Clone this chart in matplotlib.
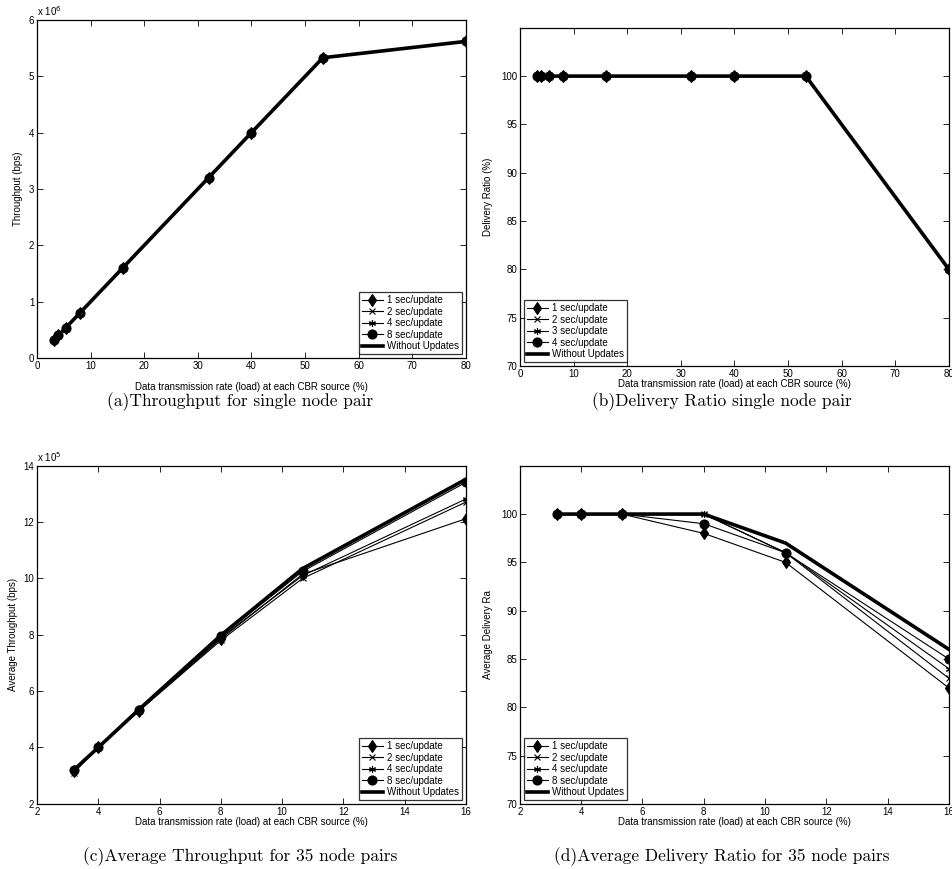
import matplotlib
matplotlib.use("Agg")
import matplotlib.pyplot as plt
from matplotlib.ticker import FuncFormatter

plt.rcParams['font.family'] = ['Liberation Sans', 'DejaVu Sans']
plt.rcParams['font.size'] = 7

# (a) / (b) single node pair
load_single = [3.2, 4, 5.33, 8, 16, 32, 40, 53.33, 80]
thr_single = [0.32e6, 0.40e6, 0.533e6, 0.80e6, 1.60e6, 3.20e6, 4.00e6, 5.33e6, 5.62e6]
dr_single = [100, 100, 100, 100, 100, 100, 100, 100, 80]

# (c) / (d) 35 node pairs
load_multi = [3.2, 4, 5.33, 8, 10.67, 16]
thr_1s = [3.15e5, 4.0e5, 5.30e5, 7.85e5, 10.15e5, 12.12e5]
thr_2s = [3.10e5, 4.0e5, 5.30e5, 7.80e5, 10.00e5, 12.71e5]
thr_4s = [3.15e5, 4.0e5, 5.33e5, 7.90e5, 10.10e5, 12.82e5]
thr_8s = [3.20e5, 4.0e5, 5.33e5, 7.95e5, 10.25e5, 13.41e5]
thr_none = [3.20e5, 4.0e5, 5.35e5, 7.98e5, 10.35e5, 13.52e5]

dr_1s = [100, 100, 100, 98, 95, 82]
dr_2s = [100, 100, 100, 100, 96, 83]
dr_4s = [100, 100, 100, 100, 96, 84]
dr_8s = [100, 100, 100, 99, 96, 85]
dr_none = [100, 100, 100, 100, 97, 86]

labels_a = ['1 sec/update', '2 sec/update', '4 sec/update', '8 sec/update', 'Without Updates']
labels_b = ['1 sec/update', '2 sec/update', '3 sec/update', '4 sec/update', 'Without Updates']

# diamond, cross, asterisk, circle (matlab style)
markers = ['d', 'x', (6, 2, 0), 'o']
msizes = [6.5, 4, 5, 6.5]
xlabel = 'Data transmission rate (load) at each CBR source (%)'


def style(ax):
    ax.tick_params(direction='in', top=True, right=True, length=4, width=0.6, labelsize=7, pad=2)
    for s in ax.spines.values():
        s.set_linewidth(0.9)


def draw(ax, x, series, labels, loc):
    for ys, m, ms in zip(series[:4], markers, msizes):
        ax.plot(x, ys, color='k', lw=0.8, marker=m, ms=ms, mew=0.8, mfc='k', mec='k')
    ax.plot(x, series[4], color='k', lw=2.6)
    leg = ax.legend(labels, loc=loc, fontsize=7, frameon=True, fancybox=False,
                    edgecolor='k', borderpad=0.3, labelspacing=0.15,
                    handlelength=2.2, handletextpad=0.4, borderaxespad=0.4)
    leg.get_frame().set_linewidth(0.9)


fig = plt.figure(figsize=(9.53, 8.69), dpi=100)

ax_a = fig.add_axes([0.0388, 0.588, 0.450, 0.389])
ax_b = fig.add_axes([0.5456, 0.579, 0.450, 0.389])
ax_c = fig.add_axes([0.0388, 0.075, 0.450, 0.389])
ax_d = fig.add_axes([0.5456, 0.075, 0.450, 0.389])

# (a)
draw(ax_a, load_single, [thr_single] * 5, labels_a, 'lower right')
ax_a.set_xlim(0, 80)
ax_a.set_ylim(0, 6e6)
ax_a.set_xticks(range(0, 81, 10))
ax_a.yaxis.set_major_formatter(FuncFormatter(lambda v, p: '%g' % (v / 1e6)))
ax_a.set_ylabel('Throughput (bps)', labelpad=4)
ax_a.set_xlabel(xlabel, labelpad=8)
ax_a.text(0.0, 1.005, r'x 10$^6$', transform=ax_a.transAxes, fontsize=7, va='bottom')
style(ax_a)

# (b)
draw(ax_b, load_single, [dr_single] * 5, labels_b, 'lower left')
ax_b.set_xlim(0, 80)
ax_b.set_ylim(70, 105)
ax_b.set_xticks(range(0, 81, 10))
ax_b.set_yticks(range(70, 101, 5))
ax_b.set_ylabel('Delivery Ratio (%)', labelpad=6)
ax_b.set_xlabel(xlabel, labelpad=0)
style(ax_b)

# (c)
draw(ax_c, load_multi, [thr_1s, thr_2s, thr_4s, thr_8s, thr_none], labels_a, 'lower right')
ax_c.set_xlim(2, 16)
ax_c.set_ylim(2e5, 14e5)
ax_c.set_xticks(range(2, 17, 2))
ax_c.set_yticks([v * 1e5 for v in range(2, 15, 2)])
ax_c.yaxis.set_major_formatter(FuncFormatter(lambda v, p: '%g' % (v / 1e5)))
ax_c.set_ylabel('Average Throughput (bps)', labelpad=4)
ax_c.set_xlabel(xlabel, labelpad=0)
ax_c.text(0.0, 1.005, r'x 10$^5$', transform=ax_c.transAxes, fontsize=7, va='bottom')
style(ax_c)

# (d)
draw(ax_d, load_multi, [dr_1s, dr_2s, dr_4s, dr_8s, dr_none], labels_a, 'lower left')
ax_d.set_xlim(2, 16)
ax_d.set_ylim(70, 105)
ax_d.set_xticks(range(2, 17, 2))
ax_d.set_yticks(range(70, 101, 5))
ax_d.set_ylabel('Average Delivery Ra', labelpad=6)
ax_d.set_xlabel(xlabel, labelpad=0)
style(ax_d)

cap = dict(fontsize=12.5, family=['cmr10', 'DejaVu Serif'], ha='center', va='center')
fig.text(240 / 953, 1 - 402 / 869, '(a)Throughput for single node pair', **cap)
fig.text(722 / 953, 1 - 402 / 869, '(b)Delivery Ratio single node pair', **cap)
fig.text(240 / 953, 1 - 857 / 869, '(c)Average Throughput for 35 node pairs', **cap)
fig.text(722 / 953, 1 - 857 / 869, '(d)Average Delivery Ratio for 35 node pairs', **cap)

fig.savefig('out.png', dpi=100)
